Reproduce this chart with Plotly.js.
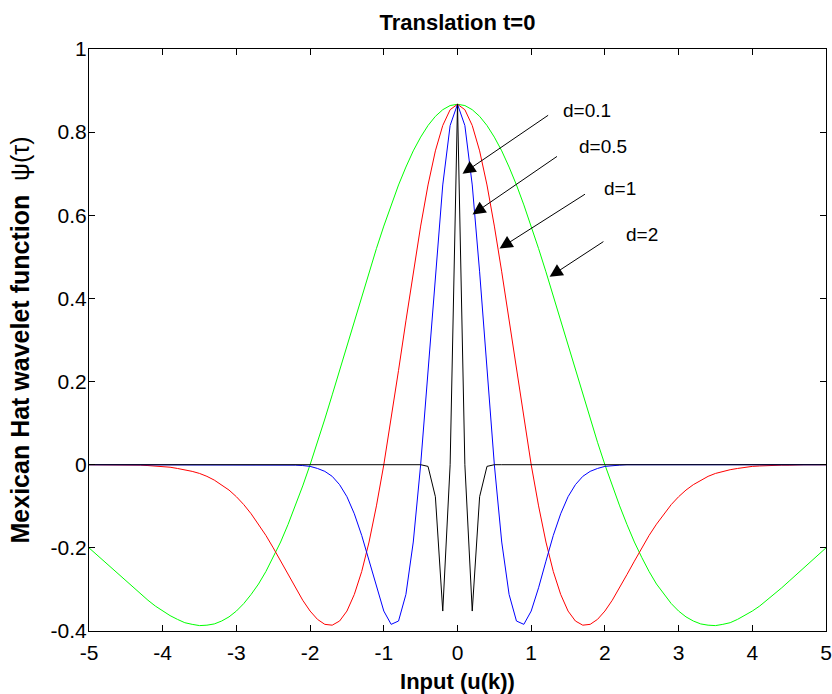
<!DOCTYPE html>
<html>
<head>
<meta charset="utf-8">
<script src="https://cdn.plot.ly/plotly-3.0.1.min.js"></script>
<style>html,body{margin:0;padding:0;background:#fff}#chart{width:832px;height:694px}</style>
</head>
<body>
<div id="chart"></div>
<script>
var xs = [-5,-4.9,-4.8,-4.7,-4.6,-4.5,-4.4,-4.3,-4.2,-4.1,-4,-3.9,-3.8,-3.7,-3.6,-3.5,-3.4,-3.3,-3.2,-3.1,-3,-2.9,-2.8,-2.7,-2.6,-2.5,-2.4,-2.3,-2.2,-2.1,-2,-1.9,-1.8,-1.7,-1.6,-1.5,-1.4,-1.3,-1.2,-1.1,-1,-0.9,-0.8,-0.7,-0.6,-0.5,-0.4,-0.3,-0.2,-0.1,0,0.1,0.2,0.3,0.4,0.5,0.6,0.7,0.8,0.9,1,1.1,1.2,1.3,1.4,1.5,1.6,1.7,1.8,1.9,2,2.1,2.2,2.3,2.4,2.5,2.6,2.7,2.8,2.9,3,3.1,3.2,3.3,3.4,3.5,3.6,3.7,3.8,3.9,4,4.1,4.2,4.3,4.4,4.5,4.6,4.7,4.8,4.9,5];

var psiD2 = [-0.200,-0.216,-0.232,-0.248,-0.264,-0.280,-0.296,-0.311,-0.326,-0.340,-0.352,-0.363,-0.372,-0.380,-0.384,-0.387,-0.386,-0.383,-0.376,-0.366,-0.352,-0.334,-0.312,-0.287,-0.257,-0.223,-0.186,-0.144,-0.099,-0.051,0,0.054,0.110,0.168,0.227,0.286,0.346,0.405,0.464,0.520,0.574,0.625,0.673,0.716,0.755,0.788,0.816,0.838,0.854,0.864,0.867,0.864,0.854,0.838,0.816,0.788,0.755,0.716,0.673,0.625,0.574,0.520,0.464,0.405,0.346,0.286,0.227,0.168,0.110,0.054,0,-0.051,-0.099,-0.144,-0.186,-0.223,-0.257,-0.287,-0.312,-0.334,-0.352,-0.366,-0.376,-0.383,-0.386,-0.387,-0.384,-0.380,-0.372,-0.363,-0.352,-0.340,-0.326,-0.311,-0.296,-0.280,-0.264,-0.248,-0.232,-0.216,-0.200];

var psiD1 = [0,0,0,0,0,-0.001,-0.001,-0.001,-0.002,-0.003,-0.004,-0.006,-0.009,-0.012,-0.016,-0.021,-0.028,-0.037,-0.048,-0.061,-0.077,-0.096,-0.118,-0.143,-0.170,-0.200,-0.232,-0.264,-0.296,-0.326,-0.352,-0.372,-0.384,-0.386,-0.376,-0.352,-0.312,-0.257,-0.186,-0.099,0,0.110,0.227,0.346,0.464,0.574,0.673,0.755,0.816,0.854,0.867,0.854,0.816,0.755,0.673,0.574,0.464,0.346,0.227,0.110,0,-0.099,-0.186,-0.257,-0.312,-0.352,-0.376,-0.386,-0.384,-0.372,-0.352,-0.326,-0.296,-0.264,-0.232,-0.200,-0.170,-0.143,-0.118,-0.096,-0.077,-0.061,-0.048,-0.037,-0.028,-0.021,-0.016,-0.012,-0.009,-0.006,-0.004,-0.003,-0.002,-0.001,-0.001,-0.001,0,0,0,0,0];

var psiD05 = [0,0,0,0,0,0,0,0,0,0,0,0,0,0,0,0,0,0,0,0,0,0,0,0,0,0,0,0,-0.001,-0.002,-0.004,-0.009,-0.016,-0.028,-0.048,-0.077,-0.118,-0.170,-0.232,-0.296,-0.352,-0.384,-0.376,-0.312,-0.186,0,0.227,0.464,0.673,0.816,0.867,0.816,0.673,0.464,0.227,0,-0.186,-0.312,-0.376,-0.384,-0.352,-0.296,-0.232,-0.170,-0.118,-0.077,-0.048,-0.028,-0.016,-0.009,-0.004,-0.002,-0.001,0,0,0,0,0,0,0,0,0,0,0,0,0,0,0,0,0,0,0,0,0,0,0,0,0,0,0,0];

var psiD01 = [0,0,0,0,0,0,0,0,0,0,0,0,0,0,0,0,0,0,0,0,0,0,0,0,0,0,0,0,0,0,0,0,0,0,0,0,0,0,0,0,0,0,0,0,0,0,-0.004,-0.077,-0.352,0,0.867,0,-0.352,-0.077,-0.004,0,0,0,0,0,0,0,0,0,0,0,0,0,0,0,0,0,0,0,0,0,0,0,0,0,0,0,0,0,0,0,0,0,0,0,0,0,0,0,0,0,0,0,0,0,0];

var xTicks = [-5,-4,-3,-2,-1,0,1,2,3,4,5];
var xTickText = ["-5","-4","-3","-2","-1","0","1","2","3","4","5"];
var yTicks = [-0.4,-0.2,0,0.2,0.4,0.6,0.8,1];
var yTickText = ["-0.4","-0.2","0","0.2","0.4","0.6","0.8","1"];

var labels = ["d=0.1","d=0.5","d=1","d=2"];
var headX = [0.068, 0.204, 0.571, 1.25];
var headY = [0.70, 0.602, 0.520, 0.452];
var tailX = [1.25, 1.37, 1.75, 2.0];
var tailY = [0.843, 0.744, 0.653, 0.539];
var textX = [1.76, 1.97, 2.21, 2.51];
var textY = [0.853, 0.766, 0.664, 0.553];

var font = "Liberation Sans, Arial, sans-serif";
var traces = [
  {x: xs, y: psiD2, mode: "lines", line: {color: "#00ff00", width: 1}},
  {x: xs, y: psiD1, mode: "lines", line: {color: "#ff0000", width: 1}},
  {x: xs, y: psiD05, mode: "lines", line: {color: "#0000ff", width: 1}},
  {x: xs, y: psiD01, mode: "lines", line: {color: "#000000", width: 1}}
];

var annotations = [];
for (var i = 0; i < labels.length; i++) {
  annotations.push({x: headX[i], y: headY[i], ax: tailX[i], ay: tailY[i], axref: "x", ayref: "y", xref: "x", yref: "y",
    text: "", showarrow: true, arrowhead: 2, arrowsize: 2.6, arrowwidth: 1, arrowcolor: "#000"});
  annotations.push({x: textX[i], y: textY[i], xref: "x", yref: "y", text: labels[i], showarrow: false,
    font: {family: font, size: 19, color: "#000"}});
}

var axisCommon = {
  showgrid: false, zeroline: false, showline: true, linecolor: "#000", linewidth: 1, mirror: "ticks",
  ticks: "inside", ticklen: 6, tickwidth: 1, tickcolor: "#000",
  tickfont: {family: font, size: 21, color: "#000"}
};

var layout = {
  width: 832, height: 694,
  margin: {l: 89, r: 6, t: 49, b: 63},
  paper_bgcolor: "#fff", plot_bgcolor: "#fff",
  showlegend: false,
  title: {text: "<b>Translation t=0</b>", xref: "paper", x: 0.5, xanchor: "center", y: 0.968, yanchor: "middle", font: {family: font, size: 22, color: "#000"}},
  xaxis: Object.assign({}, axisCommon, {range: [-5, 5], tickvals: xTicks, ticktext: xTickText, ticklabelstandoff: 3,
    title: {text: "<b>Input (u(k))</b>", standoff: 10, font: {family: font, size: 22, color: "#000"}}}),
  yaxis: Object.assign({}, axisCommon, {range: [-0.4, 1], tickvals: yTicks, ticktext: yTickText, ticklabelstandoff: -3,
    title: {text: "<b>Mexican Hat wavelet function</b>  ψ(τ)", standoff: 13, font: {family: font, size: 25, color: "#000"}}}),
  annotations: annotations
};

Plotly.newPlot("chart", traces, layout, {staticPlot: true});
</script>
</body>
</html>
